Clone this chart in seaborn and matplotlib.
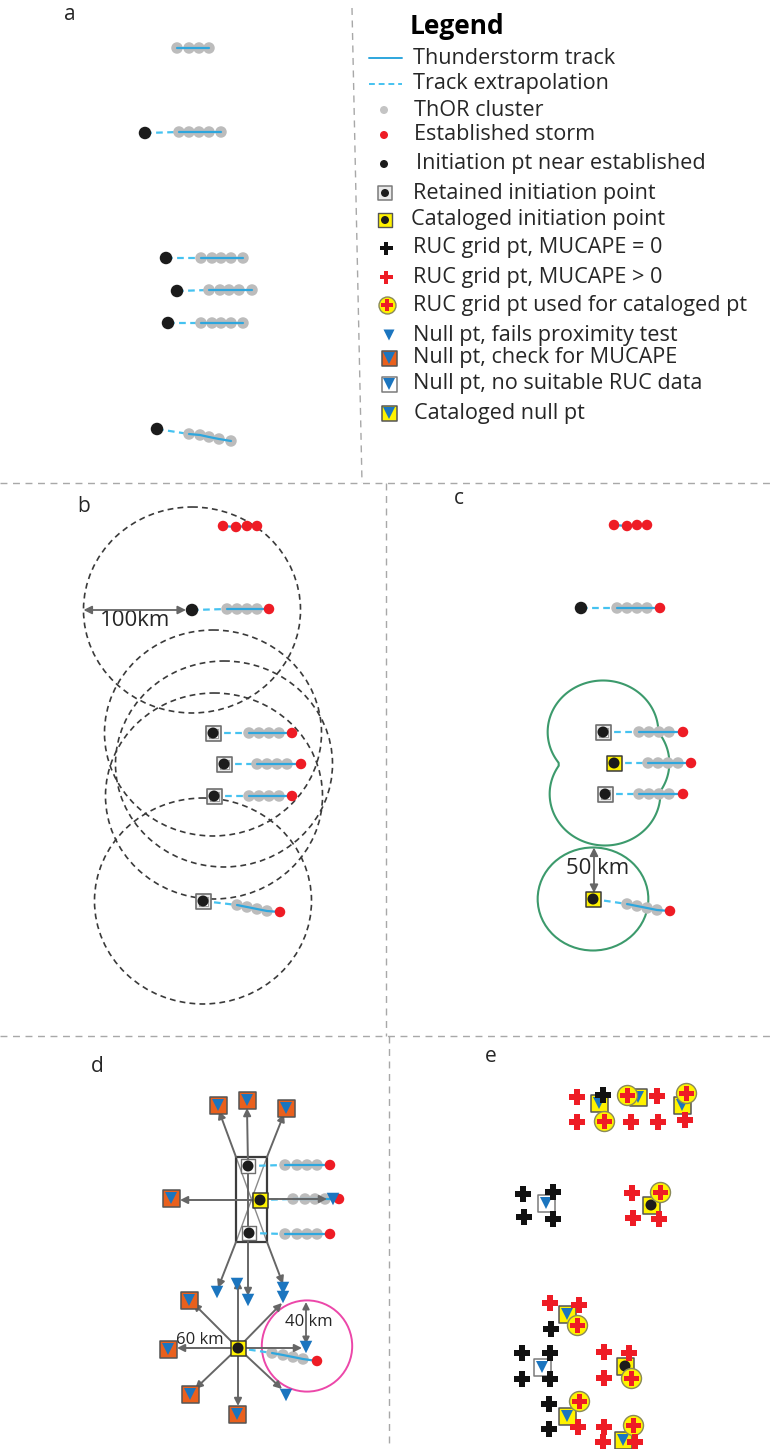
import numpy as np
import matplotlib
matplotlib.use("Agg")
import matplotlib.pyplot as plt
from matplotlib.patches import Ellipse, Rectangle
import seaborn as sns

sns.set_theme(style="white")
FONT = ["Open Sans", "DejaVu Sans"]
plt.rcParams["font.family"] = FONT

# ---------------------------------------------------------------- colours
TRACK_BLUE = "#2ea6dd"
EXTRAP_BLUE = "#45c2f0"
CLUSTER_GREY = "#bcbcbc"
STORM_RED = "#ee1c25"
INIT_BLACK = "#1b1b1b"
CAT_YELLOW = "#fff200"
NULL_BLUE = "#1b75bf"
CHECK_ORANGE = "#e9601d"
RING_GREEN = "#3c9a6c"
RING_PINK = "#ec47a9"
ARROW_GREY = "#666666"
DIVIDER_GREY = "#a8a8a8"
TEXT_DARK = "#262626"

# ---------------------------------------------------------------- panel a: raw tracks
A_CLUSTER_X = [[177, 189, 199, 209], [179, 189, 199, 209, 221], [201, 212, 221, 231, 243],
               [209, 220, 229, 239, 252], [201, 212, 221, 231, 243], [189, 200, 209, 219, 231]]
A_CLUSTER_Y = [[48, 48, 48, 48], [132, 132, 132, 132, 132], [258, 258, 258, 258, 258],
               [290, 290, 290, 290, 290], [323, 323, 323, 323, 323], [434, 435, 437, 439, 441]]
A_INIT = [None, (145, 133), (166, 258), (177, 291), (168, 323), (157, 429)]

# ---------------------------------------------------------------- panel b: 100 km proximity test
B_CLUSTER_X = [[], [227, 237, 247, 257], [249, 259, 269, 279], [257, 267, 277, 287],
               [249, 259, 269, 279], [237, 247, 257, 267]]
B_CLUSTER_Y = [[], [609, 609, 609, 609], [733, 733, 733, 733], [764, 764, 764, 764],
               [796, 796, 796, 796], [905, 907, 909, 911]]
B_STORM = [[(223, 526), (236, 527), (247, 526), (257, 526)], [(269, 609)], [(292, 733)],
           [(301, 764)], [(292, 796)], [(280, 912)]]
B_INIT = [None, (192, 610), (213, 733), (224, 764), (214, 796), (203, 901)]
B_INIT_KIND = [None, "near", "retained", "retained", "retained", "retained"]
B_RING_CENTERS = [(192, 610), (213, 733), (224, 764), (214, 796), (203, 901)]
B_RADIUS_KM = 100

# ---------------------------------------------------------------- panel c: 50 km clustering
C_CLUSTER_X = [[], [617, 627, 637, 647], [639, 649, 659, 669], [648, 658, 668, 678],
               [639, 649, 659, 669], [627, 637, 647, 657]]
C_CLUSTER_Y = [[], [608, 608, 608, 608], [732, 732, 732, 732], [763, 763, 763, 763],
               [794, 794, 794, 794], [904, 906, 908, 910]]
C_STORM = [[(614, 525), (627, 526), (637, 525), (647, 525)], [(660, 608)], [(683, 732)],
           [(691, 763)], [(683, 794)], [(670, 911)]]
C_INIT = [None, (581, 608), (603, 732), (614, 763), (605, 794), (593, 899)]
C_INIT_KIND = [None, "near", "retained", "cataloged", "retained", "cataloged"]
C_GROUP_CENTERS = [(603, 732), (614, 763), (605, 794)]
C_SINGLE_CENTER = (593, 899)
C_RADIUS_KM = 50

# ---------------------------------------------------------------- panel d: null point placement
D_CLUSTER_X = [[285, 297, 307, 317], [293, 305, 315, 325], [285, 297, 307, 317], [272, 283, 293, 303]]
D_CLUSTER_Y = [[1165, 1165, 1165, 1165], [1199, 1199, 1199, 1199], [1234, 1234, 1234, 1234],
               [1353, 1355, 1357, 1359]]
D_STORM = [[(330, 1165)], [(339, 1199)], [(330, 1234)], [(317, 1361)]]
D_INIT = [(248, 1166), (260, 1200), (249, 1233), (238, 1348)]
D_INIT_KIND = ["retained_small", "cataloged", "retained_small", "cataloged"]
D_BOX = (236, 1157, 267, 1242)
D_SPOKES_BOX = [((236, 1157), (219, 1111)), ((248, 1166), (247, 1108)), ((267, 1157), (284, 1114)),
                ((253, 1200), (180, 1200)), ((262, 1199), (327, 1199)),
                ((236, 1242), (218, 1288)), ((248, 1233), (248, 1296)), ((267, 1242), (283, 1284))]
D_SPOKES_LOW = [((238, 1348), (238, 1280)), ((238, 1348), (193, 1303)), ((238, 1348), (177, 1348)),
                ((238, 1348), (195, 1389)), ((238, 1348), (238, 1406)), ((238, 1348), (282, 1389)),
                ((238, 1348), (302, 1348)), ((238, 1348), (282, 1303))]
D_NULL_CHECK = [(218, 1105), (247, 1100), (286, 1108), (171, 1198), (189, 1300), (168, 1349),
                (190, 1394), (237, 1414)]
D_NULL_FAIL = [(333, 1199), (217, 1292), (237, 1284), (248, 1300), (283, 1288), (283, 1297),
               (286, 1395), (306, 1347)]
D_PROX_CENTER = (307, 1346)
D_PROX_KM = 40
D_SPACING_KM = 60

# ---------------------------------------------------------------- panel e: RUC sampling
E_RED_PLUS = [(577, 1097), (577, 1122), (657, 1096), (631, 1122), (658, 1122), (685, 1120),
              (632, 1193), (633, 1218), (659, 1219), (550, 1303), (579, 1305), (604, 1352),
              (629, 1353), (604, 1378), (578, 1427), (604, 1427), (603, 1442), (635, 1442)]
E_BLACK_PLUS = [(603, 1095), (523, 1194), (553, 1192), (524, 1217), (553, 1219), (551, 1329),
                (522, 1353), (550, 1353), (522, 1379), (550, 1379), (549, 1404), (549, 1429)]
E_USED = [(604, 1121), (627, 1095), (686, 1093), (660, 1192), (577, 1325), (631, 1378),
          (579, 1401), (633, 1425)]
E_CAT_NULL = [(599, 1103), (638, 1097), (682, 1105), (567, 1314), (567, 1416), (623, 1440)]
E_NO_DATA = [(546, 1203), (542, 1367)]
E_CAT_INIT = [(651, 1205), (625, 1366)]

# ---------------------------------------------------------------- legend
LEGEND_LABELS = ["Thunderstorm track", "Track extrapolation", "ThOR cluster", "Established storm",
                 "Initiation pt near established", "Retained initiation point",
                 "Cataloged initiation point", "RUC grid pt, MUCAPE = 0", "RUC grid pt, MUCAPE > 0",
                 "RUC grid pt used for cataloged pt", "Null pt, fails proximity test",
                 "Null pt, check for MUCAPE", "Null pt, no suitable RUC data", "Cataloged null pt"]
LEGEND_KEYS = ["track", "extrap", "cluster", "storm", "near", "retained", "cataloged", "plus0",
               "plus1", "used", "nullfail", "nullcheck", "nodata", "catnull"]
LEGEND_Y = [58, 84, 110, 135, 164, 193, 220, 248, 277, 305, 335, 358, 384, 413]
LEGEND_TEXT_X = [413, 413, 414, 414, 416, 413, 411, 413, 413, 413, 413, 413, 413, 414]

PANEL_LABELS = ["a", "b", "c", "d", "e"]
PANEL_LABEL_POS = [(70, 14), (84, 507), (459, 499), (97, 1067), (491, 1057)]

W, H = 772, 1449
fig = plt.figure(figsize=(W / 100, H / 100), dpi=100)
ax = fig.add_axes([0, 0, 1, 1])
ax.set_axis_off()

PX = 0.72  # points per pixel at 100 dpi
KM_X = 1.085  # pixels per km, horizontal
KM_Y = 1.03   # pixels per km, vertical


def s_px(d):
    return (d * PX) ** 2


def dots(pts, color, d, marker="o", edge="none", lw=0.0, z=4):
    if not pts:
        return
    xs = [p[0] for p in pts]
    ys = [p[1] for p in pts]
    sns.scatterplot(x=xs, y=ys, ax=ax, color=color, s=s_px(d), marker=marker,
                    edgecolor=edge, linewidth=lw, zorder=z, legend=False)


def init_marker(p, kind):
    if kind == "retained":
        dots([p], "#e9e9e9", 15, "s", "#6e6e6e", 1.2, z=5)
        dots([p], "white", 9, "s", "#8a8a8a", 0.6, z=5.1)
    elif kind == "retained_small":
        dots([p], "white", 14, "s", "#6e6e6e", 1.0, z=5)
    elif kind == "cataloged":
        dots([p], CAT_YELLOW, 15, "s", "#3a3a3a", 1.1, z=5)
    dots([p], INIT_BLACK, 11, "o", z=5.5)


def track(init, cx, cy, storm, kind="near"):
    pts = list(zip(cx, cy)) + list(storm)
    if init is not None and pts:
        ax.plot([init[0], pts[0][0]], [init[1], pts[0][1]], color=EXTRAP_BLUE, lw=1.6,
                ls=(0, (3, 2)), zorder=3)
    dots(list(zip(cx, cy)), CLUSTER_GREY, 11.5, z=3.5)
    if len(pts) > 1:
        ax.plot([p[0] for p in pts], [p[1] for p in pts], color=TRACK_BLUE, lw=1.6, zorder=3.7)
    dots(list(storm), STORM_RED, 10.5, z=3.8)
    if init is not None:
        if kind == "near":
            dots([init], INIT_BLACK, 12.5, z=5)
        else:
            init_marker(init, kind)


def arrow(p0, p1, both=False, color=ARROW_GREY, lw=1.4, ms=11, z=4.2):
    ax.annotate("", xy=p1, xytext=p0,
                arrowprops=dict(arrowstyle="<|-|>" if both else "-|>", color=color, lw=lw,
                                mutation_scale=ms, shrinkA=0, shrinkB=0), zorder=z)


def null_box(pts, face, edge, d=17, z=6.5):
    dots(pts, face, d, "s", edge, 1.1, z=z)
    dots(pts, NULL_BLUE, 12, "v", z=z + 0.1)


# ---------------------------------------------------------------- dividers
div = dict(color=DIVIDER_GREY, lw=1.0, ls=(0, (5, 4)), zorder=1)
ax.plot([352, 362], [8, 483], **div)
ax.plot([0, W], [483, 483], **div)
ax.plot([386, 386], [483, 1036], **div)
ax.plot([0, W], [1036, 1036], **div)
ax.plot([389, 389], [1036, H], **div)

for lab, (x, y) in zip(PANEL_LABELS, PANEL_LABEL_POS):
    ax.text(x, y, lab, fontsize=15, color=TEXT_DARK, ha="center", va="center")

# ---------------------------------------------------------------- panel a
for init, cx, cy in zip(A_INIT, A_CLUSTER_X, A_CLUSTER_Y):
    track(init, cx, cy, [])

# ---------------------------------------------------------------- panel b
for init, kind, cx, cy, st in zip(B_INIT, B_INIT_KIND, B_CLUSTER_X, B_CLUSTER_Y, B_STORM):
    track(init, cx, cy, st, kind if kind else "near")
for c in B_RING_CENTERS:
    ax.add_patch(Ellipse(c, 2 * B_RADIUS_KM * KM_X, 2 * B_RADIUS_KM * KM_Y, fill=False,
                         ec="#3a3a3a", lw=1.2, ls=(0, (3.5, 2.5)), zorder=2))
bx, by = B_INIT[1]
arrow((bx - B_RADIUS_KM * KM_X, by), (bx - 6, by), both=True, lw=1.3, ms=12)
ax.text(135, 621, f"{B_RADIUS_KM}km", fontsize=16, color=TEXT_DARK, ha="center", va="center")

# ---------------------------------------------------------------- panel c
for init, kind, cx, cy, st in zip(C_INIT, C_INIT_KIND, C_CLUSTER_X, C_CLUSTER_Y, C_STORM):
    track(init, cx, cy, st, kind if kind else "near")
gx, gy = np.meshgrid(np.linspace(520, 700, 400), np.linspace(650, 960, 700))
rx, ry = C_RADIUS_KM * KM_X * 1.02, C_RADIUS_KM * KM_Y
f_group = np.min([((gx - cx) / rx) ** 2 + ((gy - cy) / ry) ** 2 for cx, cy in C_GROUP_CENTERS],
                 axis=0)
ax.contour(gx, gy, f_group, levels=[1.0], colors=RING_GREEN, linewidths=1.5, zorder=2)
ax.add_patch(Ellipse(C_SINGLE_CENTER, 2 * rx, 2 * ry, fill=False, ec=RING_GREEN, lw=1.5, zorder=2))
arrow((594, C_SINGLE_CENTER[1] - ry), (594, C_SINGLE_CENTER[1] - 6), both=True, lw=1.3, ms=12)
ax.text(598, 869, f"{C_RADIUS_KM} km", fontsize=16, color=TEXT_DARK, ha="center", va="center",
        zorder=7)

# ---------------------------------------------------------------- panel d
x0, y0, x1, y1 = D_BOX
ax.plot([x0, x1], [y0, y1], color="#8a8a8a", lw=1.0, zorder=2)
ax.plot([x1, x0], [y0, y1], color="#8a8a8a", lw=1.0, zorder=2)
ax.add_patch(Rectangle((x0, y0), x1 - x0, y1 - y0, fill=False, ec="#3c3c3c", lw=1.6, zorder=2.5))
ax.plot([248, 248], [y0, y1], color=ARROW_GREY, lw=1.4, zorder=2.4)
for p0, p1 in D_SPOKES_BOX + D_SPOKES_LOW:
    arrow(p0, p1)
for init, kind, cx, cy, st in zip(D_INIT, D_INIT_KIND, D_CLUSTER_X, D_CLUSTER_Y, D_STORM):
    track(init, cx, cy, st, kind)
null_box(D_NULL_CHECK, CHECK_ORANGE, "#555555")
dots(D_NULL_FAIL, NULL_BLUE, 12.5, "v", z=6.6)
ax.add_patch(Ellipse(D_PROX_CENTER, 2 * D_PROX_KM * 1.13, 2 * D_PROX_KM * 1.14, fill=False,
                     ec=RING_PINK, lw=1.4, zorder=2))
arrow((306, 1302), (306, 1344), both=True, lw=1.3, ms=10, z=6.2)
ax.text(309, 1322, f"{D_PROX_KM} km", fontsize=12, color=TEXT_DARK, ha="center", va="center",
        zorder=7)
ax.text(200, 1340, f"{D_SPACING_KM} km", fontsize=12, color=TEXT_DARK, ha="center", va="center",
        zorder=7)

# ---------------------------------------------------------------- panel e
null_box(E_CAT_NULL, CAT_YELLOW, "#555555", d=17, z=5)
null_box(E_NO_DATA, "white", "#7a7a7a", d=17, z=5)
dots(E_CAT_INIT, CAT_YELLOW, 17, "s", "#555555", 1.1, z=5)
dots(E_CAT_INIT, INIT_BLACK, 11, z=5.2)
dots(E_USED, CAT_YELLOW, 20, "o", "#8a8a5a", 1.0, z=5.5)
dots(E_USED, STORM_RED, 15, "P", z=5.6)
dots(E_RED_PLUS, STORM_RED, 16, "P", z=5.6)
dots(E_BLACK_PLUS, "#111111", 16, "P", z=5.7)

# ---------------------------------------------------------------- legend
ax.text(410, 26, "Legend", fontsize=19, fontweight="bold", color="black", ha="left", va="center")
for key, lab, y, tx in zip(LEGEND_KEYS, LEGEND_LABELS, LEGEND_Y, LEGEND_TEXT_X):
    if key == "track":
        ax.plot([369, 402], [y, y], color=TRACK_BLUE, lw=1.4)
    elif key == "extrap":
        ax.plot([369, 402], [y, y], color=EXTRAP_BLUE, lw=1.4, ls=(0, (3, 2)))
    elif key == "cluster":
        dots([(384, y)], "#c4c4c4", 8)
    elif key == "storm":
        dots([(384, y)], STORM_RED, 8)
    elif key == "near":
        dots([(384, y)], INIT_BLACK, 8)
    elif key == "retained":
        dots([(385, y)], "#e9e9e9", 14, "s", "#7a7a7a", 1.1)
        dots([(385, y)], INIT_BLACK, 8, z=5)
    elif key == "cataloged":
        dots([(385, y)], CAT_YELLOW, 14, "s", "#555555", 1.0)
        dots([(385, y)], INIT_BLACK, 8, z=5)
    elif key == "plus0":
        dots([(386, y)], "#111111", 13, "P")
    elif key == "plus1":
        dots([(386, y)], STORM_RED, 13, "P")
    elif key == "used":
        dots([(387, y)], CAT_YELLOW, 17, "o", "#8a8a5a", 1.0)
        dots([(387, y)], STORM_RED, 12, "P", z=5)
    elif key == "nullfail":
        dots([(389, y)], NULL_BLUE, 11, "v")
    elif key == "nullcheck":
        null_box([(389, y)], CHECK_ORANGE, "#555555", d=15)
    elif key == "nodata":
        null_box([(389, y)], "white", "#7a7a7a", d=15)
    elif key == "catnull":
        null_box([(389, y)], CAT_YELLOW, "#555555", d=15)
    ax.text(tx, y, lab, fontsize=15.6, color=TEXT_DARK, ha="left", va="center")

ax.set_xlim(0, W)
ax.set_ylim(H, 0)
fig.savefig("out.png", dpi=100, facecolor="white")
